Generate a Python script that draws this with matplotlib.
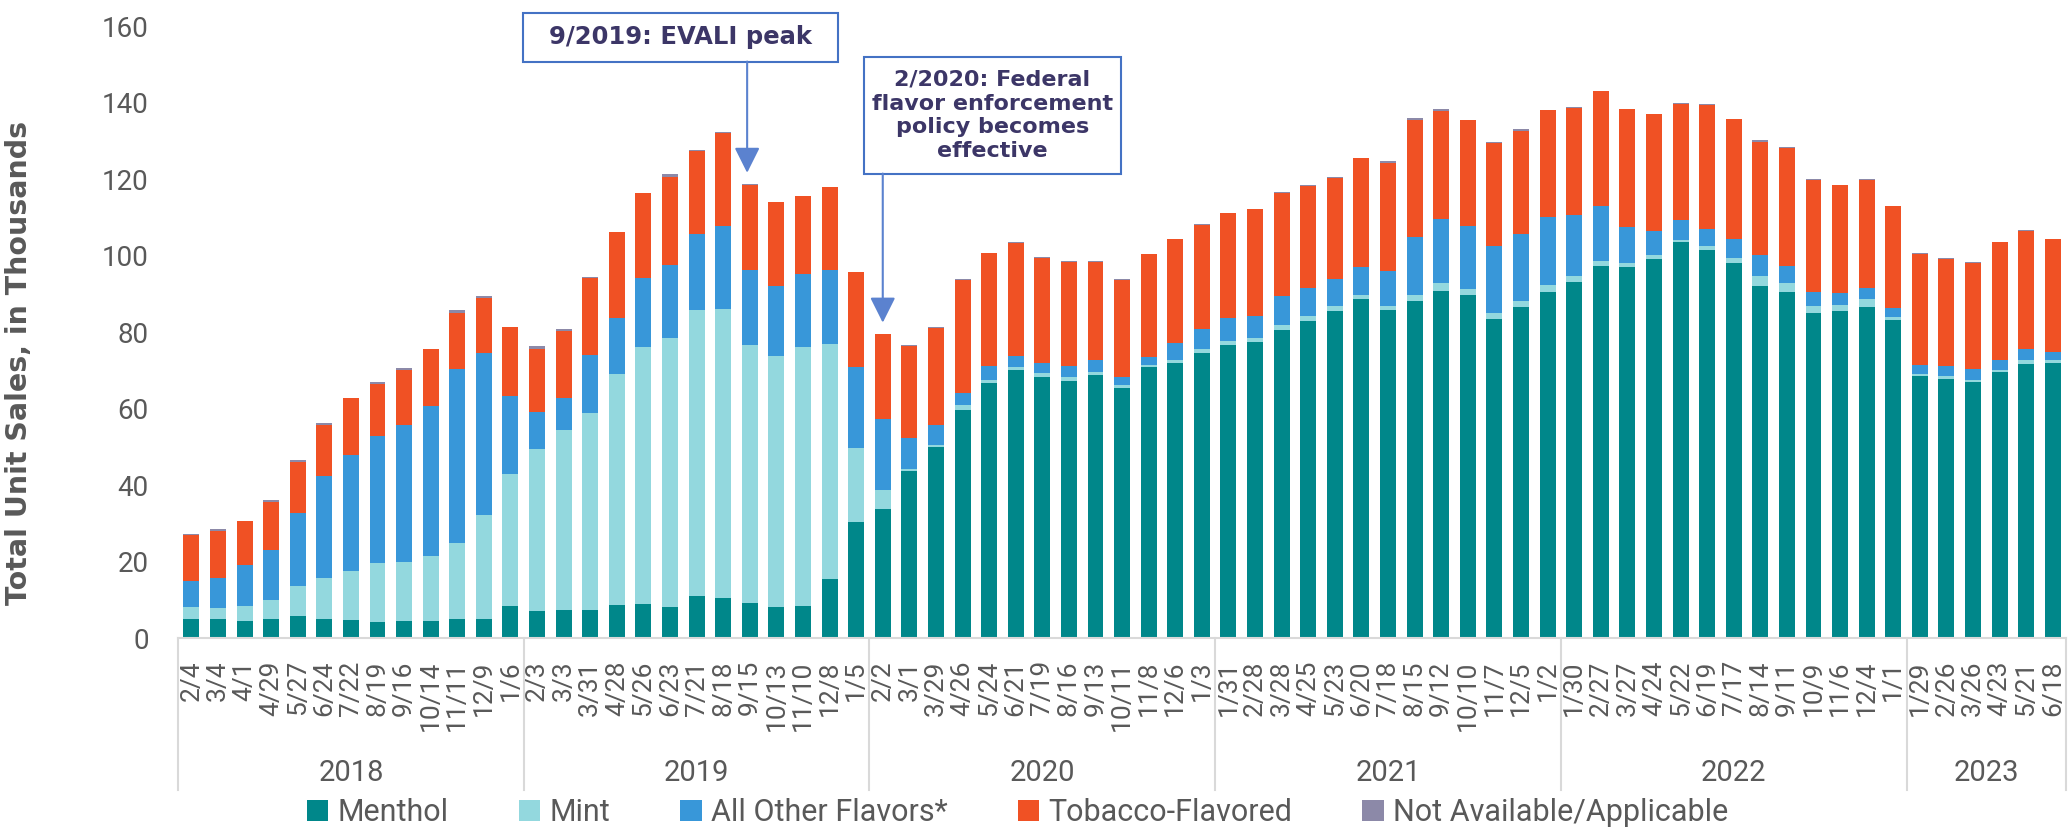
import matplotlib
matplotlib.use("Agg")
import matplotlib.pyplot as plt
import matplotlib.transforms as mtransforms
from matplotlib.patches import Rectangle
import numpy as np

# --- data (thousands of units) ----------------------------------------------
dates = ["2/4", "3/4", "4/1", "4/29", "5/27", "6/24", "7/22", "8/19", "9/16", "10/14", "11/11", "12/9", "1/6",
         "2/3", "3/3", "3/31", "4/28", "5/26", "6/23", "7/21", "8/18", "9/15", "10/13", "11/10", "12/8", "1/5",
         "2/2", "3/1", "3/29", "4/26", "5/24", "6/21", "7/19", "8/16", "9/13", "10/11", "11/8", "12/6", "1/3",
         "1/31", "2/28", "3/28", "4/25", "5/23", "6/20", "7/18", "8/15", "9/12", "10/10", "11/7", "12/5", "1/2",
         "1/30", "2/27", "3/27", "4/24", "5/22", "6/19", "7/17", "8/14", "9/11", "10/9", "11/6", "12/4", "1/1",
         "1/29", "2/26", "3/26", "4/23", "5/21", "6/18"]
years = ["2018", "2019", "2020", "2021", "2022", "2023"]
year_sizes = [13, 13, 13, 13, 13, 6]

menthol = [5.1, 5.0, 4.4, 4.9, 5.7, 4.9, 4.7, 4.3, 4.4, 4.4, 4.9, 4.9, 8.4,
           7.0, 7.3, 7.3, 8.6, 8.9, 8.2, 10.9, 10.6, 9.1, 8.2, 8.4, 15.5, 30.4,
           33.7, 43.7, 50.0, 59.6, 66.8, 70.0, 68.3, 67.3, 68.8, 65.5, 70.8, 72.0, 74.5,
           76.6, 77.5, 80.7, 82.9, 85.6, 88.6, 85.7, 88.2, 90.9, 89.7, 83.5, 86.5, 90.6,
           93.2, 97.2, 97.0, 99.2, 103.5, 101.4, 98.0, 92.2, 90.4, 84.9, 85.6, 86.7, 83.3,
           68.5, 67.8, 67.1, 69.5, 71.8, 71.9]
mint = [3.1, 2.9, 4.1, 5.0, 8.0, 10.8, 12.9, 15.2, 15.5, 17.1, 20.0, 27.2, 34.4,
        42.5, 47.2, 51.5, 60.5, 67.2, 70.2, 74.9, 75.4, 67.5, 65.5, 67.7, 61.3, 19.3,
        5.0, 0.5, 0.6, 1.3, 0.8, 0.9, 0.9, 1.1, 0.8, 0.7, 0.7, 0.7, 1.1,
        1.0, 0.9, 1.2, 1.3, 1.2, 1.1, 1.2, 1.5, 2.0, 1.6, 1.6, 1.7, 1.7,
        1.6, 1.4, 1.1, 1.0, 0.6, 1.1, 1.3, 2.6, 2.4, 2.0, 1.4, 2.0, 0.6,
        0.6, 0.8, 0.5, 0.7, 1.0, 0.7]
other = [6.6, 7.8, 10.6, 13.0, 18.9, 26.7, 30.4, 33.4, 35.7, 39.2, 45.4, 42.5, 20.6,
         9.7, 8.2, 15.2, 14.5, 18.0, 19.2, 19.8, 21.7, 19.6, 18.5, 19.0, 19.4, 21.1,
         18.7, 8.2, 5.2, 3.2, 3.6, 2.9, 2.8, 2.8, 3.0, 2.1, 2.0, 4.4, 5.3,
         6.0, 5.8, 7.6, 7.3, 7.0, 7.3, 9.2, 15.2, 16.8, 16.4, 17.4, 17.4, 17.8,
         15.9, 14.3, 9.5, 6.3, 5.2, 4.5, 5.2, 5.4, 4.5, 3.7, 3.3, 2.8, 2.5,
         2.4, 2.5, 2.9, 2.5, 2.7, 2.3]
tobacco = [12.2, 12.2, 11.5, 12.6, 13.4, 13.2, 14.8, 13.6, 14.4, 14.8, 14.8, 14.4, 17.9,
           16.5, 17.6, 20.3, 22.6, 22.2, 23.1, 21.9, 24.5, 22.4, 21.8, 20.5, 21.8, 24.9,
           22.1, 24.1, 25.4, 29.6, 29.4, 29.6, 27.5, 27.2, 25.8, 25.4, 26.9, 27.2, 27.2,
           27.5, 28.0, 27.0, 26.8, 26.6, 28.5, 28.2, 30.6, 28.2, 27.8, 27.1, 27.0, 27.9,
           28.0, 30.1, 30.7, 30.5, 30.5, 32.5, 31.3, 29.5, 31.0, 29.3, 28.2, 28.4, 26.6,
           29.0, 28.1, 27.7, 30.8, 31.1, 29.5]
not_avail = [0.1, 0.6, 0.1, 0.6, 0.6, 0.6, 0.1, 0.6, 0.6, 0.1, 0.7, 0.6, 0.1,
             0.6, 0.6, 0.1, 0.1, 0.1, 0.6, 0.1, 0.1, 0.1, 0.1, 0.1, 0.1, 0.1,
             0.1, 0.1, 0.1, 0.1, 0.1, 0.1, 0.1, 0.1, 0.1, 0.1, 0.1, 0.1, 0.1,
             0.1, 0.1, 0.1, 0.1, 0.1, 0.1, 0.6, 0.6, 0.6, 0.1, 0.1, 0.6, 0.1,
             0.1, 0.1, 0.1, 0.1, 0.1, 0.1, 0.1, 0.6, 0.1, 0.1, 0.1, 0.1, 0.1,
             0.1, 0.1, 0.1, 0.1, 0.1, 0.1]

series = [("Menthol", menthol, "#00878A"),
          ("Mint", mint, "#93D8DE"),
          ("All Other Flavors*", other, "#3897D9"),
          ("Tobacco-Flavored", tobacco, "#F05124"),
          ("Not Available/Applicable", not_avail, "#8C89A8")]

GREY = "#595959"
NAVY = "#3C3667"
BOX_BLUE = "#4472C4"

fig = plt.figure(figsize=(20.68, 8.30), dpi=100)
ax = fig.add_axes([0.0861, 0.2313, 0.9130, 0.7369])

x = np.arange(len(dates))
bottom = np.zeros(len(dates))
for name, vals, color in series:
    ax.bar(x, vals, width=0.6, bottom=bottom, color=color, lw=0, label=name)
    bottom += np.array(vals)

ax.set_xlim(-0.5, len(dates) - 0.5)
ax.set_ylim(0, 160)
ax.set_yticks(np.arange(0, 161, 20))
ax.tick_params(axis="y", length=0, pad=21, labelsize=20, labelcolor=GREY)
ax.tick_params(axis="x", length=0, pad=16, labelsize=19, labelcolor=GREY)
for lab in ax.get_yticklabels():
    lab.set_family("Roboto")
ax.set_xticks(x)
ax.set_xticklabels(dates, rotation=90, ha="center", va="top", family="Roboto")

for s in ["left", "right", "top"]:
    ax.spines[s].set_visible(False)
ax.spines["bottom"].set_color("#D9D9D9")
ax.spines["bottom"].set_linewidth(1.5)

ax.set_ylabel("Total Unit Sales, in Thousands", fontsize=20.5, fontweight="bold", color=GREY)
ax.yaxis.set_label_coords(-0.077, 0.45)

# year groups under the date labels
trans = mtransforms.blended_transform_factory(ax.transData, ax.transAxes)
edges = np.concatenate([[0], np.cumsum(year_sizes)]) - 0.5
for b in edges:
    ax.plot([b, b], [0, -0.2485], transform=trans, color="#D9D9D9", lw=1.5, clip_on=False)
for yr, lo, hi in zip(years, edges[:-1], edges[1:]):
    ax.text((lo + hi) / 2, -0.2207, yr, transform=trans, ha="center", va="center",
            fontsize=21, color=GREY, family="Roboto")

# callouts
ax.add_patch(Rectangle((12.46, 150.8), 11.85, 12.6, fc="white", ec=BOX_BLUE, lw=1.5, clip_on=False))
ax.text(18.38, 157.1, "9/2019: EVALI peak", ha="center", va="center", fontsize=17.5,
        fontweight="bold", color=NAVY, clip_on=False)
ax.add_patch(Rectangle((25.29, 121.5), 9.66, 30.5, fc="white", ec=BOX_BLUE, lw=1.5, clip_on=False))
ax.text(30.12, 136.75, "2/2020: Federal\nflavor enforcement\npolicy becomes\neffective",
        ha="center", va="center", fontsize=16, fontweight="bold", color=NAVY,
        linespacing=1.22, clip_on=False)
arrow = dict(arrowstyle="-|>,head_length=0.6,head_width=0.3", color="#5B82CF", lw=1.5,
             shrinkA=0, shrinkB=0, mutation_scale=26)
ax.annotate("", xy=(20.9, 121.7), xytext=(20.9, 150.8), arrowprops=arrow)
ax.annotate("", xy=(26.0, 82.5), xytext=(26.0, 121.5), arrowprops=arrow)

leg = fig.legend(loc="center", bbox_to_anchor=(0.492, 0.0205), ncol=5, frameon=False,
                 handlelength=0.7, handleheight=0.7, handletextpad=0.3,
                 columnspacing=2.3, prop={"family": "Roboto", "size": 22})
for t in leg.get_texts():
    t.set_color(GREY)

fig.savefig("out.png", dpi=100)
